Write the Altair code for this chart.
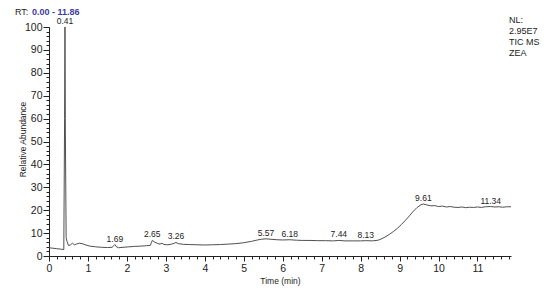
import altair as alt
import pandas as pd

# Chromatogram trace
times = [0, 0.1, 0.2, 0.3, 0.38, 0.40, 0.41, 0.42, 0.44, 0.46, 0.5, 0.55, 0.6, 0.65, 0.7, 0.78, 0.85,
         0.95, 1.05, 1.2, 1.35, 1.5, 1.62, 1.67, 1.69, 1.72, 1.78, 1.9, 2.05, 2.2, 2.35, 2.5, 2.6,
         2.63, 2.65, 2.7, 2.78, 2.85, 2.9, 2.95, 3.05, 3.15, 3.22, 3.26, 3.32, 3.45, 3.6, 3.8, 4.0,
         4.2, 4.4, 4.6, 4.8, 5.0, 5.2, 5.35, 5.45, 5.57, 5.7, 5.85, 6.0, 6.18, 6.35, 6.5, 6.7, 6.9,
         7.1, 7.3, 7.44, 7.6, 7.8, 8.0, 8.13, 8.3, 8.45, 8.55, 8.65, 8.75, 8.85, 8.95, 9.05, 9.15,
         9.25, 9.35, 9.45, 9.55, 9.61, 9.7, 9.8, 9.9, 10.0, 10.1, 10.2, 10.3, 10.4, 10.5, 10.6,
         10.7, 10.8, 10.9, 11.0, 11.1, 11.2, 11.34, 11.45, 11.55, 11.65, 11.75, 11.86]
abundance = [3.6, 3.4, 3.2, 3.0, 2.8, 60, 100, 55, 8.0, 6.5, 4.6, 4.8, 5.6, 4.9, 5.2, 5.6, 5.4,
             4.8, 4.3, 4.0, 3.8, 3.7, 3.8, 4.6, 5.0, 4.2, 3.6, 3.8, 4.0, 4.2, 4.3, 4.5, 4.6,
             5.8, 6.8, 6.2, 5.5, 5.2, 5.6, 5.0, 4.9, 5.2, 5.6, 5.9, 5.4, 5.1, 5.0, 4.9, 4.8,
             4.9, 5.0, 5.2, 5.4, 5.8, 6.4, 7.0, 7.3, 7.5, 7.3, 7.1, 7.0, 7.1, 6.9, 6.8, 6.8, 6.7,
             6.7, 6.6, 6.8, 6.6, 6.6, 6.6, 6.7, 6.6, 6.9, 7.6, 8.5, 9.6, 10.8, 12.2, 13.8, 15.6,
             17.5, 19.5, 21.2, 22.4, 22.7, 22.3, 21.9, 22.0, 21.6, 21.8, 21.4, 21.6, 21.3, 21.2, 21.4,
             21.1, 21.3, 21.2, 21.4, 21.2, 21.5, 21.6, 21.4, 21.5, 21.3, 21.5, 21.5]

peak_times = [0.41, 1.69, 2.65, 3.26, 5.57, 6.18, 7.44, 8.13, 9.61, 11.34]

header_label = "RT:"
header_range = "0.00 - 11.86"
info_lines = ["NL:", "2.95E7", "TIC MS", "ZEA"]

x_major = list(range(0, 12))
x_minor = [round(i * 0.2, 1) for i in range(60)]
y_major = list(range(0, 101, 10))
y_minor = list(range(0, 101, 2))

FONT = "Liberation Sans, Arial, sans-serif"

trace = pd.DataFrame({"t": times, "v": abundance})
lookup = dict(zip(times, abundance))
peaks = pd.DataFrame({"t": peak_times, "v": [lookup[p] for p in peak_times],
                      "lab": [f"{p:.2f}" for p in peak_times]})

xscale = alt.Scale(domain=[0, 11.86], nice=False, zero=False)
yscale = alt.Scale(domain=[0, 100], nice=False)

line = alt.Chart(trace).mark_line(color="#505050", strokeWidth=1).encode(
    x=alt.X("t:Q", scale=xscale,
            axis=alt.Axis(values=x_major, title="Time (min)", orient="bottom", tickSize=5,
                          labelFlush=False, labelOverlap=False, grid=False,
                          labelPadding=2, titlePadding=3, format="d")),
    y=alt.Y("v:Q", scale=yscale,
            axis=alt.Axis(values=y_major, title="Relative Abundance", orient="left", tickSize=6,
                          labelFlush=False, labelOverlap=False, grid=False,
                          labelPadding=1, titleX=-27, titleY=112, titleAngle=270,
                          titleAlign="center", titleBaseline="middle", format="d")),
)

minor = alt.Chart(trace).mark_line(opacity=0).encode(
    x=alt.X("t:Q", scale=xscale,
            axis=alt.Axis(values=x_minor, title=None, orient="bottom", tickSize=3, labels=False,
                          domain=False, grid=False)),
    y=alt.Y("v:Q", scale=yscale,
            axis=alt.Axis(values=y_minor, title=None, orient="left", tickSize=3, labels=False,
                          domain=False, grid=False)),
)

labels = alt.Chart(peaks).mark_text(
    baseline="bottom", dy=-1, fontSize=8.5, font=FONT, color="#222222"
).encode(x=alt.X("t:Q", scale=xscale, axis=None), y=alt.Y("v:Q", scale=yscale, axis=None),
         text="lab:N")

one = pd.DataFrame({"a": [0]})
rt1 = alt.Chart(one).mark_text(
    align="left", baseline="middle", fontSize=9, font=FONT, color="#222222", text=header_label
).encode(x=alt.value(-34), y=alt.value(-15))
rt2 = alt.Chart(one).mark_text(
    align="left", baseline="middle", fontSize=9, font=FONT, fontWeight="bold", color="#3c3c9c",
    text=header_range
).encode(x=alt.value(-17), y=alt.value(-15))
info = alt.Chart(one).mark_text(
    align="left", baseline="top", fontSize=9, font=FONT, color="#222222",
    text="\n".join(info_lines), lineBreak="\n", lineHeight=11
).encode(x=alt.value(460), y=alt.value(-11))

chart = alt.layer(line, minor, labels, rt1, rt2, info).resolve_axis(
    x="independent", y="independent"
).properties(
    width=462, height=229,
    autosize=alt.AutoSizeParams(type="none"),
    padding={"left": 41, "top": 19, "right": 31, "bottom": 33},
).configure_view(stroke=None).configure_axis(
    domainColor="#222222", tickColor="#222222", labelColor="#222222", titleColor="#222222",
    labelFont=FONT, titleFont=FONT, labelFontSize=10.5, titleFontSize=8.5, titleFontWeight="normal",
    domainWidth=1, tickWidth=1,
)

chart.save("out.html", embed_options={"renderer": "svg", "actions": False})
